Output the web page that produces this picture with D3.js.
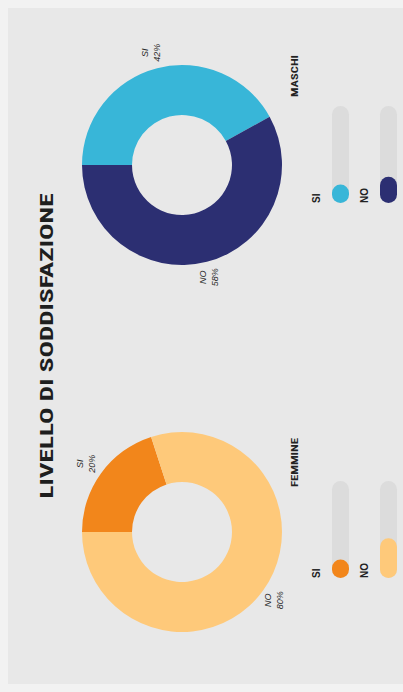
<!DOCTYPE html>
<html>
<head>
<meta charset="utf-8">
<script src="https://cdn.jsdelivr.net/npm/d3@7/dist/d3.min.js"></script>
<style>
  html, body { margin: 0; padding: 0; background: #f2f2f2; }
  svg { display: block; }
</style>
</head>
<body>
<svg id="chart" width="403" height="692"></svg>
<script>
// Satisfaction survey: share of SI / NO answers by gender
const title = "LIVELLO DI SODDISFAZIONE";
const groups = ["FEMMINE", "MASCHI"];
const answers = ["SI", "NO"];
const femmineValues = [20, 80];
const maschiValues = [42, 58];
// fill level of the legend pills (fraction of the track)
const femmineLegendFill = [0.19, 0.41];
const maschiLegendFill = [0.19, 0.27];
const femmineColors = ["#f2861b", "#fec97a"];
const maschiColors = ["#38b6d8", "#2c2f72"];

const W = 692, H = 403; // layout is drawn sideways, then turned to portrait
const svg = d3.select("#chart");

const root = svg.append("g")
  .attr("transform", `translate(0,${W}) rotate(-90)`);

// background card
root.append("rect").attr("x", -2).attr("y", -2).attr("width", W + 4).attr("height", H + 4).attr("fill", "#f2f2f2");
root.append("rect").attr("x", 8).attr("y", 8).attr("width", W - 16).attr("height", H).attr("fill", "#e8e8e8");

root.append("text")
  .attr("x", W / 2).attr("y", 53)
  .attr("text-anchor", "middle")
  .attr("font-family", "'Liberation Sans Narrow', 'Roboto Condensed', 'Open Sans', sans-serif")
  .attr("font-weight", 700)
  .attr("font-size", 18.5)
  .attr("fill", "#1e1e1e")
  .attr("textLength", 305)
  .attr("lengthAdjust", "spacingAndGlyphs")
  .text(title);

const panels = [
  { name: groups[0], values: femmineValues, colors: femmineColors, fill: femmineLegendFill,
    cx: 160, nameX: 205, nameW: 49, legendX: 114 },
  { name: groups[1], values: maschiValues, colors: maschiColors, fill: maschiLegendFill,
    cx: 527, nameX: 595, nameW: 42, legendX: 489 }
];

const cy = 182, outerR = 100, innerR = 50, labelR = 116;
const pie = d3.pie().sort(null).startAngle(0).endAngle(2 * Math.PI);
const arc = d3.arc().innerRadius(innerR).outerRadius(outerR);
const labelArc = d3.arc().innerRadius(labelR).outerRadius(labelR);

const trackX = d3.scaleLinear().domain([0, 1]);
const trackLen = 97, pillH = 17;

panels.forEach(p => {
  const g = root.append("g");
  const donut = g.append("g").attr("transform", `translate(${p.cx},${cy})`);
  const arcs = pie(p.values);

  donut.selectAll("path")
    .data(arcs)
    .join("path")
    .attr("d", arc)
    .attr("fill", (d, i) => p.colors[i]);

  const lbl = donut.selectAll("text.pct")
    .data(arcs)
    .join("text")
    .attr("class", "pct")
    .attr("transform", d => `translate(${labelArc.centroid(d)})`)
    .attr("text-anchor", "middle")
    .attr("font-family", "'Liberation Sans', Arial, sans-serif")
    .attr("font-style", "italic")
    .attr("font-size", 9)
    .attr("fill", "#2a2a2a");
  lbl.append("tspan").attr("x", 0).attr("y", -5).text((d, i) => answers[i]);
  lbl.append("tspan").attr("x", 0).attr("y", 7).text(d => d.data + "%");

  g.append("text")
    .attr("x", p.nameX).attr("y", 298)
    .attr("font-family", "'Liberation Sans Narrow', 'Roboto Condensed', Arial, sans-serif")
    .attr("font-weight", 700)
    .attr("font-size", 9)
    .attr("fill", "#222")
    .attr("textLength", p.nameW)
    .attr("lengthAdjust", "spacingAndGlyphs")
    .text(p.name);

  // legend: label above a rounded track filled by the answer colour
  trackX.range([p.legendX, p.legendX + trackLen]);
  const leg = g.selectAll("g.leg")
    .data(answers)
    .join("g")
    .attr("class", "leg")
    .attr("transform", (d, i) => `translate(0,${i * 48})`);

  leg.append("text")
    .attr("x", p.legendX).attr("y", 320)
    .attr("font-family", "'Liberation Sans', Arial, sans-serif")
    .attr("font-weight", 700)
    .attr("font-size", 10)
    .attr("fill", "#222")
    .text(d => d);

  leg.append("rect")
    .attr("x", trackX(0)).attr("y", 332)
    .attr("width", trackX(1) - trackX(0)).attr("height", pillH)
    .attr("rx", pillH / 2)
    .attr("fill", "#dcdcdc");

  leg.append("rect")
    .attr("x", trackX(0)).attr("y", 332)
    .attr("width", (d, i) => Math.max(pillH, trackX(p.fill[i]) - trackX(0)))
    .attr("height", pillH)
    .attr("rx", pillH / 2)
    .attr("fill", (d, i) => p.colors[i]);
});
</script>
</body>
</html>
